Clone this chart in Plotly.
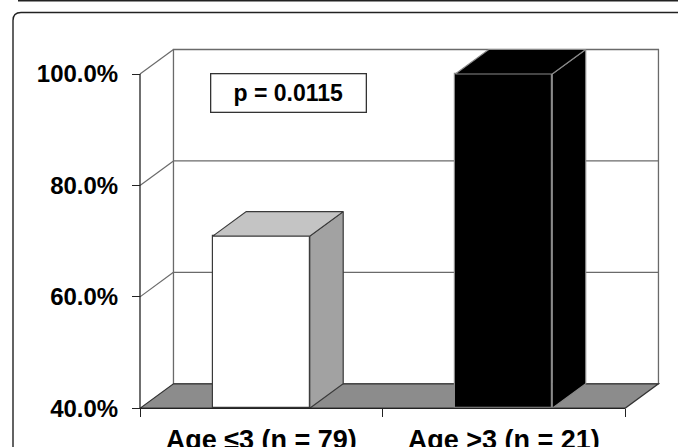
import plotly.graph_objects as go

# ---------------- data ----------------
categories = ["Age \u22643 (n = 79)", "Age >3 (n = 21)"]
values = [70.9, 100.0]
y_tickvals = [40, 60, 80, 100]
y_ticktext = ["40.0%", "60.0%", "80.0%", "100.0%"]
p_text = "p = 0.0115"

# ---------------- styling / geometry ----------------
W, H = 678, 447
L, R, T, B = 120, 5, 30, 20
plotw, ploth = W - L - R, H - T - B
PX0, PXU = 140.0, 242.5          # pixel of x=-0.5, pixels per category
PY40, PYU = 408.3, 5.5717        # pixel of 40 %, pixels per percent
DX, DY = 0.138, 4.4              # 3D depth offset in data units
BAR_W = 0.4
YMIN = 40
xr = [-0.5 - (PX0 - L) / PXU, -0.5 + (W - R - PX0) / PXU]
yr = [YMIN - (H - B - PY40) / PYU, YMIN + (PY40 - T) / PYU]

face_front = ["white", "black"]
face_top = ["#c4c4c4", "black"]
face_side = ["#a2a2a2", "black"]
edge = ["#3a3a3a", "#8a8a8a"]
floor_col = "#8c8c8c"
grid_col = "#6a6a6a"
xs = list(range(len(categories)))
x_left, x_right = -0.5, len(categories) - 0.5

fig = go.Figure()

# front faces
fig.add_trace(go.Bar(
    x=xs, y=[v - YMIN for v in values], base=[YMIN] * len(values), width=BAR_W,
    marker=dict(color=face_front, line=dict(color=edge, width=1.2)),
    hoverinfo="skip", showlegend=False))

# side and top faces
for i, v in enumerate(values):
    xl, xrt = xs[i] - BAR_W / 2, xs[i] + BAR_W / 2
    fig.add_trace(go.Scatter(
        x=[xrt, xrt + DX, xrt + DX, xrt, xrt],
        y=[YMIN, YMIN + DY, v + DY, v, YMIN],
        mode="lines", fill="toself", fillcolor=face_side[i],
        line=dict(color=edge[i], width=1.2), hoverinfo="skip", showlegend=False))
    fig.add_trace(go.Scatter(
        x=[xl, xrt, xrt + DX, xl + DX, xl],
        y=[v, v, v + DY, v + DY, v],
        mode="lines", fill="toself", fillcolor=face_top[i],
        line=dict(color=edge[i], width=1.2), hoverinfo="skip", showlegend=False))

shapes = []
# back wall
shapes.append(dict(type="rect", xref="x", yref="y", layer="below",
                   x0=x_left + DX, x1=x_right + DX, y0=YMIN + DY, y1=y_tickvals[-1] + DY,
                   fillcolor="white", line=dict(color=grid_col, width=1.3)))
for t in y_tickvals[1:-1]:
    shapes.append(dict(type="line", xref="x", yref="y", layer="below",
                       x0=x_left + DX, x1=x_right + DX, y0=t + DY, y1=t + DY,
                       line=dict(color=grid_col, width=1.3)))
for t in y_tickvals[1:]:
    shapes.append(dict(type="line", xref="x", yref="y", layer="below",
                       x0=x_left, x1=x_left + DX, y0=t, y1=t + DY,
                       line=dict(color=grid_col, width=1.2)))
# floor
shapes.append(dict(type="path", xref="x", yref="y", layer="below",
                   path=f"M {x_left},{YMIN} L {x_right},{YMIN} L {x_right + DX},{YMIN + DY} "
                        f"L {x_left + DX},{YMIN + DY} Z",
                   fillcolor=floor_col, line=dict(color="#333333", width=1.2)))
# front axis lines
shapes.append(dict(type="line", xref="x", yref="y", layer="below",
                   x0=x_left, x1=x_left, y0=YMIN, y1=y_tickvals[-1],
                   line=dict(color="#222222", width=1.3)))
shapes.append(dict(type="line", xref="x", yref="y", layer="above",
                   x0=x_left, x1=x_right, y0=YMIN, y1=YMIN,
                   line=dict(color="#222222", width=1.3)))


def px2paper_x(px):
    return (px - L) / plotw


def px2paper_y(py):
    return (H - B - py) / ploth


# outer rounded frame and top rule
fx, fy, rad = 13, 12.5, 8
frame_path = (f"M {px2paper_x(fx)},{px2paper_y(H + 20)} L {px2paper_x(fx)},{px2paper_y(fy + rad)} "
              f"Q {px2paper_x(fx)},{px2paper_y(fy)} {px2paper_x(fx + rad)},{px2paper_y(fy)} "
              f"L {px2paper_x(W + 20)},{px2paper_y(fy)}")
shapes.append(dict(type="path", xref="paper", yref="paper", path=frame_path,
                   line=dict(color="#222222", width=1.4)))
shapes.append(dict(type="line", xref="paper", yref="paper",
                   x0=px2paper_x(18), x1=px2paper_x(W + 10), y0=px2paper_y(0.8), y1=px2paper_y(0.8),
                   line=dict(color="#222222", width=1.5)))

font_family = "Liberation Sans, Arial, sans-serif"

fig.update_layout(
    width=W, height=H,
    margin=dict(l=L, r=R, t=T, b=B, autoexpand=False),
    paper_bgcolor="white", plot_bgcolor="rgba(0,0,0,0)",
    shapes=shapes,
    bargap=0,
    xaxis=dict(range=xr, anchor="free", position=px2paper_y(PY40),
               tickmode="array", tickvals=xs, ticktext=categories,
               ticks="", showgrid=False, zeroline=False, showline=False,
               tickfont=dict(family=font_family, size=27, color="black", weight="bold"),
               ticklabelstandoff=13, automargin=False,
               minor=dict(tickmode="array", tickvals=[x_left + k for k in range(len(xs) + 1)],
                          ticks="outside", ticklen=8, tickwidth=1.3, tickcolor="#222222",
                          showgrid=False)),
    yaxis=dict(range=yr, anchor="free", position=px2paper_x(PX0),
               tickmode="array", tickvals=y_tickvals, ticktext=y_ticktext,
               ticks="outside", ticklen=8, tickwidth=1.3, tickcolor="#222222",
               showgrid=False, zeroline=False, showline=False,
               tickfont=dict(family=font_family, size=24, color="black", weight="bold"),
               ticklabelstandoff=9, automargin=False),
    annotations=[dict(x=0.1144, y=96.68, xref="x", yref="y", text=f"<b>{p_text}</b>",
                      showarrow=False, xanchor="center", yanchor="middle",
                      font=dict(family=font_family, size=23, color="black"),
                      bgcolor="white", bordercolor="#333333", borderwidth=1.3,
                      borderpad=1, width=152, height=35)],
)

fig.write_html("out.html", config={"displayModeBar": False},
               post_script="document.body.style.margin='0';document.body.style.padding='0';")
